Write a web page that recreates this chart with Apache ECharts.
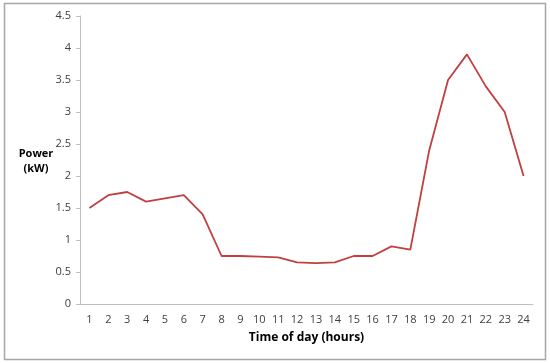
<!DOCTYPE html>
<html><head><meta charset="utf-8">
<script src="https://cdn.jsdelivr.net/npm/echarts@6/dist/echarts.min.js"></script>
<style>html,body{margin:0;padding:0;background:#fff}#c{width:550px;height:363px}</style>
</head><body><div id="c"></div>
<script>
const hours = ['1','2','3','4','5','6','7','8','9','10','11','12','13','14','15','16','17','18','19','20','21','22','23','24'];
const power = [1.5,1.7,1.75,1.6,1.65,1.7,1.4,0.75,0.75,0.74,0.73,0.65,0.64,0.65,0.75,0.75,0.9,0.85,2.4,3.5,3.9,3.4,3.0,2.0];
const xTitle = 'Time of day (hours)';
const yTitle = 'Power\n(kW)';
const chart = echarts.init(document.getElementById('c'), null, {renderer:'canvas'});
const font = 'Open Sans';
chart.setOption({
  animation:false,
  backgroundColor:'#fff',
  graphic:[
    {type:'rect', shape:{x:4.5,y:3.5,width:541,height:356}, style:{fill:'none', stroke:'#a6a6a6', lineWidth:1.5}},
    {type:'text', x:36, y:146, style:{text:yTitle, font:'bold 11px "Open Sans"', fill:'#000', align:'center', lineHeight:15}}
  ],
  grid:{left:80, right:17, top:16, bottom:59},
  xAxis:{type:'category', data:hours, boundaryGap:true,
    name:xTitle, nameLocation:'middle', nameGap:28,
    nameTextStyle:{fontFamily:font, fontWeight:'bold', fontSize:12, color:'#000'},
    axisLine:{lineStyle:{color:'#bfbfbf'}}, axisTick:{show:false},
    axisLabel:{fontFamily:font, fontSize:11, color:'#404040', margin:10, interval:0}},
  yAxis:{type:'value', min:0, max:4.5, interval:0.5,
    axisLine:{show:true, lineStyle:{color:'#bfbfbf'}}, axisTick:{show:true, length:4, lineStyle:{color:'#bfbfbf'}},
    splitLine:{show:false},
    axisLabel:{fontFamily:font, fontSize:11, color:'#404040', margin:9}},
  series:[{type:'line', data:power, symbol:'none', lineStyle:{color:'#c0403f', width:1.8}}]
});
</script></body></html>
